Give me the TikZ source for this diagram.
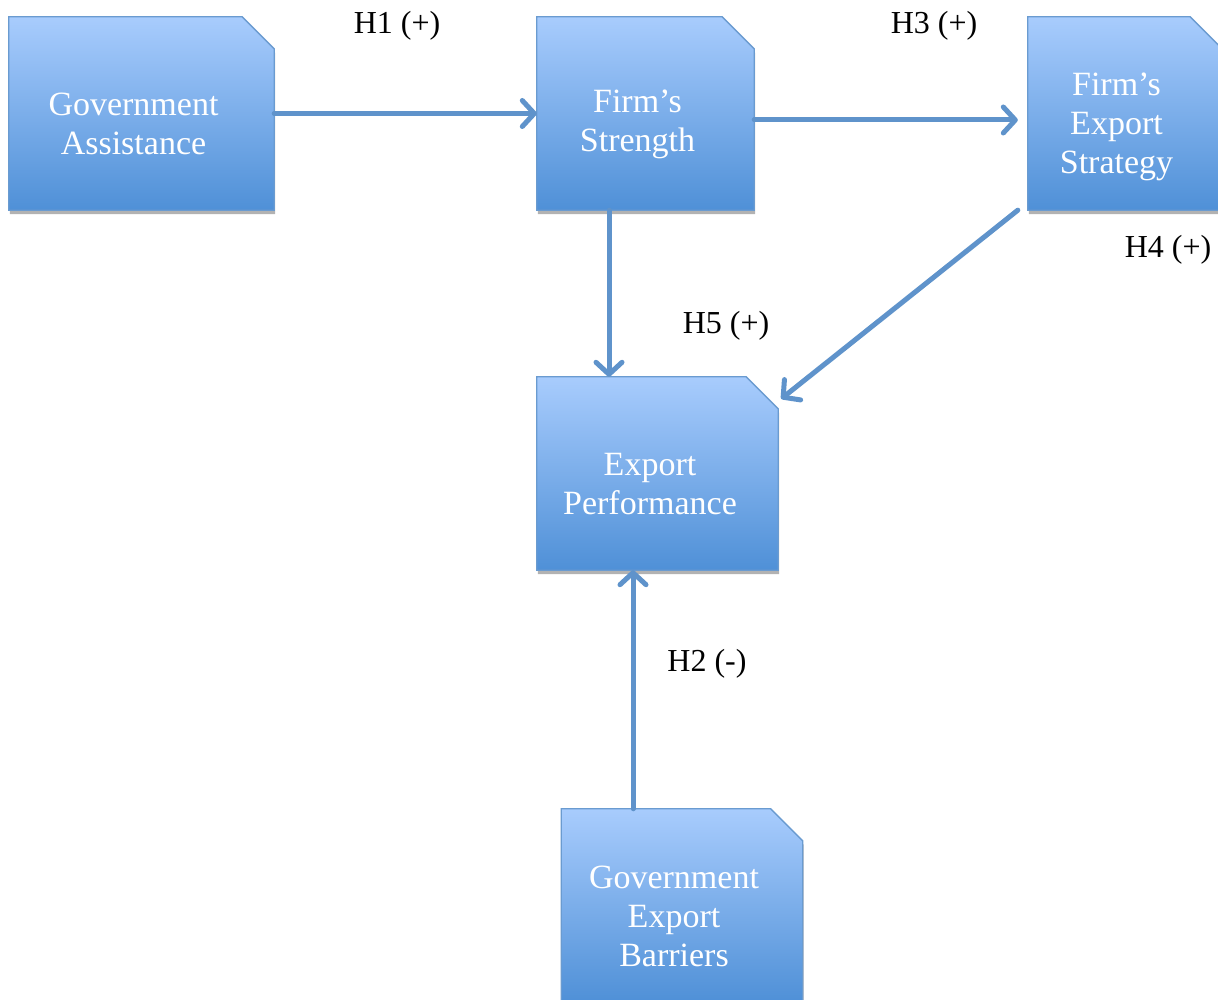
\documentclass[tikz,border=0pt]{standalone}
\usepackage{fontspec}
\setmainfont{Liberation Serif}
\usetikzlibrary{shadows,arrows.meta,calc}
\definecolor{boxtop}{HTML}{A8CCFD}
\definecolor{boxbot}{HTML}{4F90D7}
\definecolor{boxline}{HTML}{6A9BD0}
\definecolor{arrowc}{HTML}{5F93CB}
\tikzset{
  varbox/.style={rectangle, inner sep=0pt, minimum height=193pt},
  cutshape/.style={draw=boxline, line width=1.3pt, top color=boxtop, bottom color=boxbot,
    drop shadow={shadow xshift=1pt, shadow yshift=-4pt, opacity=0.3, fill=black}},
  boxtext/.style={text=white, align=center, font=\fontsize{34}{39}\selectfont},
  hyp/.style={text=black, font=\fontsize{32}{36}\selectfont, inner sep=0pt},
  link/.style={draw=arrowc, line width=5pt, line cap=round,
    -{Straight Barb[length=12pt,width=26pt,line width=5pt,round]}}
}
\newcommand{\cutbox}[1]{%
  \shade[cutshape] (#1.south west) -- (#1.north west) -- ([xshift=-32pt]#1.north east)
    -- ([yshift=-32pt]#1.north east) -- (#1.south east) -- cycle;}
\begin{document}
\begin{tikzpicture}[x=1pt,y=-1pt]
\useasboundingbox (0,0) rectangle (1218,1000);
\clip (0,0) rectangle (1218,1000);
\fill[white] (0,0) rectangle (1218,1000);

\node[varbox, minimum width=265pt] (ga) at (141.5,113.5) {};
\cutbox{ga}
\node[boxtext] (gat) at (133.5,124) {Government\\Assistance};

\node[varbox, minimum width=217pt] (fs) at (645.5,113.5) {};
\cutbox{fs}
\node[boxtext] (fst) at (637.5,124) {Firm’s\\Strength};

\node[varbox, minimum width=194pt] (fes) at (1125,113.5) {};
\cutbox{fes}
\node[boxtext] (fest) at (1116.5,127) {Firm’s\\Export\\Strategy};

\node[varbox, minimum width=241pt] (ep) at (657.5,473.5) {};
\cutbox{ep}
\node[boxtext] (ept) at (650,484) {Export\\Performance};

\node[varbox, minimum width=241pt] (geb) at (682,905.5) {};
\cutbox{geb}
\node[boxtext] (gebt) at (674,916) {Government\\Export\\Barriers};

\node[hyp] (h1) at (397,26) {H1 (+)};
\node[hyp] (h3) at (934,26) {H3 (+)};
\node[hyp] (h4) at (1168,250) {H4 (+)};
\node[hyp] (h5) at (726,326) {H5 (+)};
\node[hyp] (h2) at (707,664) {H2 (-)};

\draw[link] (ga.east) -- (fs.west);
\draw[link] ([yshift=-6.5pt]fs.east) -- ([xshift=-10pt,yshift=-6.5pt]fes.west);
\draw[link] ([xshift=-36.5pt]fs.south) -- ([xshift=-36.5pt]fs.south |- ep.north);
\draw[link] ([xshift=-10pt]fes.south west) -- ($(ep.north east)+(3pt,-22pt)$);
\draw[link] ([xshift=-49pt]geb.north) -- ([xshift=-49pt]geb.north |- ep.south);
\end{tikzpicture}
\end{document}
